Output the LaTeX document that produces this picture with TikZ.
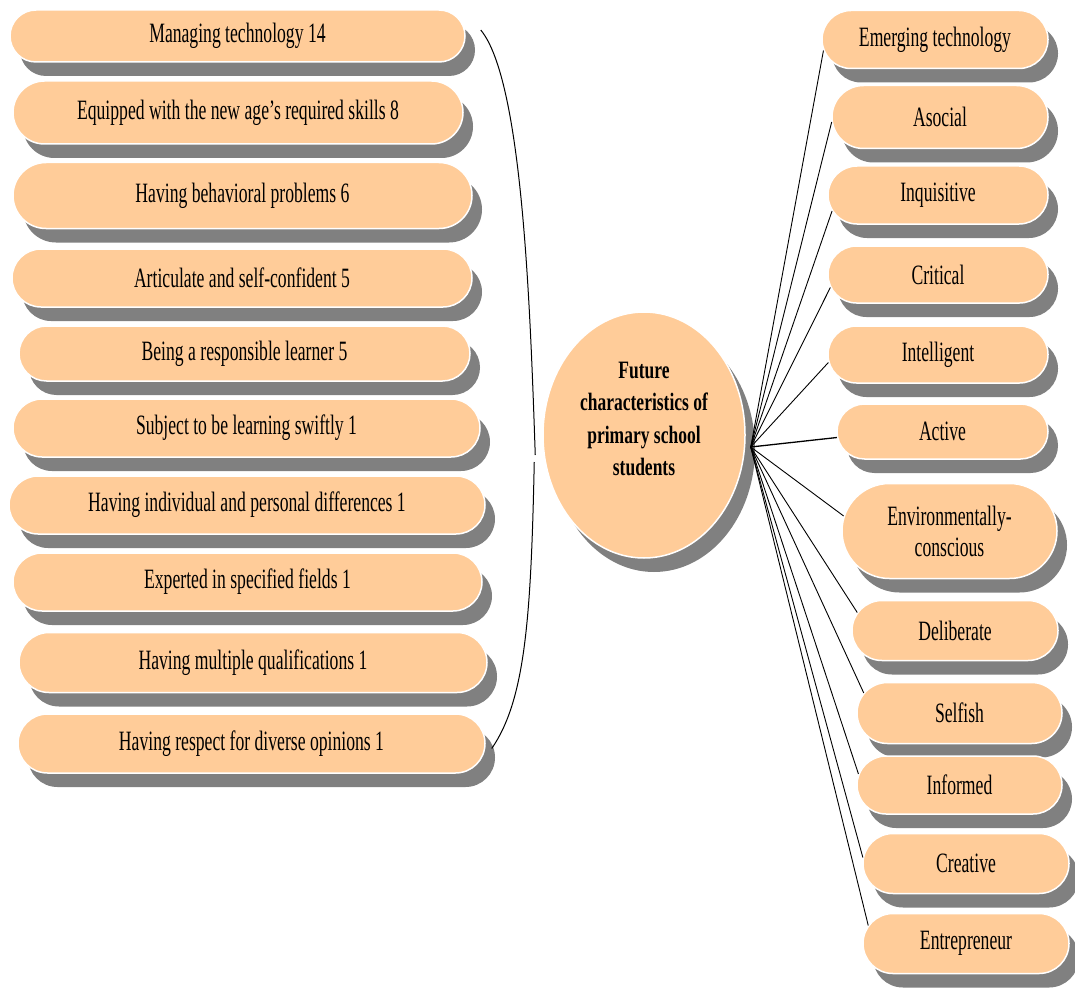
\documentclass[tikz,border=0pt]{standalone}
\usepackage{fontspec}
\newfontfamily\pillfont{Liberation Serif}[FakeStretch=0.63]
\newfontfamily\hubfont{Liberation Serif}[FakeStretch=0.70]
\usetikzlibrary{shapes.geometric,shadows}
\definecolor{peach}{HTML}{FFCC99}
\definecolor{shade}{HTML}{808080}

\begin{document}
\begin{tikzpicture}[x=1pt,y=-1pt,
  boxshadow/.style={drop shadow={shadow xshift=10pt,shadow yshift=-14pt,fill=shade,opacity=1}},
  pill/.style 2 args={draw=white,line width=1.5pt,fill=peach,boxshadow,
    minimum width=#1,minimum height=#2,rounded corners=#2/2,inner sep=0pt,
    align=center,font=\pillfont\fontsize{28}{31}\selectfont},
  hub/.style={ellipse,draw=white,line width=1.5pt,fill=peach,boxshadow,
    minimum width=202pt,minimum height=246pt,inner sep=0pt},
  hubtext/.style={align=center,inner sep=0pt,yshift=16pt,
    font=\hubfont\bfseries\fontsize{25}{32.5}\selectfont},
  link/.style={black,line width=0.9pt},
  brace/.style={black,line width=1pt}]

\useasboundingbox[fill=white] (0,0) rectangle (1075,987);

\begin{scope}
\clip (0,11) rectangle (1075,987);

% left column: characteristics with their frequencies
\node[pill={455pt}{52pt}] (l1)  at (237.5,36)  {Managing technology 14};
\node[pill={450pt}{63pt}] (l2)  at (238,112.5) {Equipped with the new age’s required skills 8};
\node[pill={459pt}{66pt}] (l3)  at (242.5,195.5) {Having behavioral problems 6};
\node[pill={460pt}{58pt}] (l4)  at (242,278)   {Articulate and self-confident 5};
\node[pill={451pt}{55pt}] (l5)  at (244.5,353.5) {Being a responsible learner 5};
\node[pill={467pt}{58pt}] (l6)  at (246.5,428) {Subject to be learning swiftly 1};
\node[pill={476pt}{58pt}] (l7)  at (247,505)   {Having individual and personal differences 1};
\node[pill={469pt}{58pt}] (l8)  at (247.5,582) {Experted in specified fields 1};
\node[pill={468pt}{60pt}] (l9)  at (253,662.5) {Having multiple qualifications 1};
\node[pill={467pt}{59pt}] (l10) at (251.5,743.5) {Having respect for diverse opinions 1};

% central topic
\node[hub,label={[hubtext]center:Future\\characteristics of\\primary school\\students}] (c) at (644,435) {};

% right column: single characteristics
\node[pill={226pt}{58pt}] (r1)  at (935,39.5)   {Emerging technology};
\node[pill={216pt}{63pt}] (r2)  at (940,117)    {Asocial};
\node[pill={220pt}{58pt}] (r3)  at (938,195)    {Inquisitive};
\node[pill={220pt}{57pt}] (r4)  at (938,274.5)  {Critical};
\node[pill={220pt}{57pt}] (r5)  at (938,354.5)  {Intelligent};
\node[pill={211pt}{55pt}] (r6)  at (942.5,431.5) {Active};
\node[pill={215pt}{95pt}] (r7)  at (949.5,531)  {Environmentally-\\conscious};
\node[pill={206pt}{60pt}] (r8)  at (955,630.5)  {Deliberate};
\node[pill={205pt}{61pt}] (r9)  at (959.5,713)  {Selfish};
\node[pill={205pt}{58pt}] (r10) at (959.5,785)  {Informed};
\node[pill={206pt}{60pt}] (r11) at (966,863.5)  {Creative};
\node[pill={206pt}{60pt}] (r12) at (966,943.5)  {Entrepreneur};
\end{scope}

% brace gathering the left column
\coordinate (bt)  at ([xshift=15pt,yshift=6pt]l1.east);
\coordinate (tip) at ([xshift=-7pt,yshift=-20pt]c.west);
\coordinate (tip2) at ([xshift=-8pt,yshift=-27pt]c.west);
\coordinate (bb)  at ([xshift=6pt,yshift=-5pt]l10.east);
\draw[brace] (bt) .. controls (522,80) and (530,300) .. (tip);
\draw[brace] (tip2) .. controls (531,620) and (525,700) .. (bb);

% spokes from the central topic to the right column
\coordinate (h) at ([xshift=5pt,yshift=-12pt]c.east);
\draw[link] (h) -- ([xshift=2.2pt,yshift=-11pt]r1.west);
\draw[link] (h) -- ([xshift=0.4pt,yshift=-5pt]r2.west);
\draw[link] (h) -- ([xshift=4.8pt,yshift=-16pt]r3.west);
\draw[link] (h) -- ([xshift=3.1pt,yshift=-13pt]r4.west);
\draw[link] (h) -- ([xshift=1.1pt,yshift=-8pt]r5.west);
\draw[link,line width=1.3pt] (h) -- ([xshift=0.7pt,yshift=-6pt]r6.west);
\draw[link] (h) -- ([xshift=2.4pt,yshift=15pt]r7.west);
\draw[link] (h) -- ([xshift=6pt,yshift=18pt]r8.west);
\draw[link] (h) -- ([xshift=7.5pt,yshift=20pt]r9.west);
\draw[link] (h) -- ([xshift=2.2pt,yshift=11pt]r10.west);
\draw[link] (h) -- ([xshift=0.6pt,yshift=6pt]r11.west);
\draw[link] (h) -- ([xshift=6pt,yshift=18pt]r12.west);
\end{tikzpicture}
\end{document}
